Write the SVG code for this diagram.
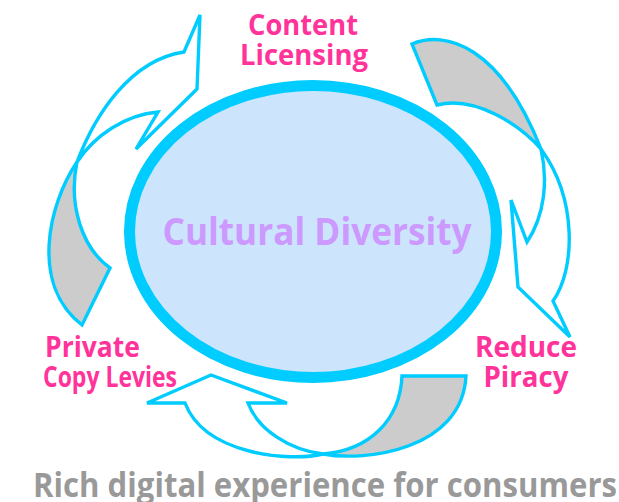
<svg xmlns="http://www.w3.org/2000/svg" width="619" height="502" viewBox="0 0 619 502">
<style>
.arrow{stroke:#00ccff;stroke-width:3.4;stroke-linejoin:miter}
.front{fill:#ffffff}
.back{fill:#cccccc}
.lbl{font-family:"Open Sans","DejaVu Sans",sans-serif;font-weight:bold;fill:#ff3399;font-size:28px}
.center{font-family:"Open Sans","DejaVu Sans",sans-serif;font-weight:bold;fill:#cc99ff;font-size:37px}
.foot{font-family:"Open Sans","DejaVu Sans",sans-serif;font-weight:bold;fill:#999999;font-size:34px}
</style>
<rect width="619" height="502" fill="#ffffff"/>
<g id="connectors">
<g id="arrow-left">
<path class="arrow back" d="M77,162 C48,205 30,285 82,325 L110,268 C82,248 68,205 77,162 Z"/>
<path class="arrow front" d="M77,162 C95,115 130,60 184,52 L200,15 L197,89 L136,149 L158,112 C125,115 95,135 77,162 Z"/>
</g>
<g id="arrow-right">
<path class="arrow back" d="M412,44 C445,30 500,45 541,149 C520,125 475,95 437,105 Z"/>
<path class="arrow front" d="M541,149 C548,180 545,215 527,242 L511,200 L518,287 L570,337 L553,301 C575,270 578,200 541,149 Z"/>
</g>
<g id="arrow-bottom">
<path class="arrow back" d="M323,454 C365,462 462,450 466,376 L402,376 C400,420 370,450 323,454 Z"/>
<path class="arrow front" d="M323,454 C290,462 205,455 185,403 L147,403 L211,375 L287,403 L248,403 C258,430 290,450 323,454 Z"/>
</g>
</g>
<g id="node-center">
<ellipse cx="313" cy="231.5" rx="183.5" ry="146" fill="#cce5fd" stroke="#00ccff" stroke-width="11"/>
<text class="center" x="317" y="245" text-anchor="middle" textLength="309" lengthAdjust="spacingAndGlyphs">Cultural Diversity</text>
</g>
<g id="node-content-licensing">
<text class="lbl" x="303" y="35" text-anchor="middle" textLength="110" lengthAdjust="spacingAndGlyphs">Content</text>
<text class="lbl" x="304" y="65" text-anchor="middle" textLength="128" lengthAdjust="spacingAndGlyphs">Licensing</text>
</g>
<g id="node-private-copy">
<text class="lbl" x="45" y="357" textLength="95" lengthAdjust="spacingAndGlyphs">Private</text>
<text class="lbl" x="43" y="387" textLength="134" lengthAdjust="spacingAndGlyphs">Copy Levies</text>
</g>
<g id="node-reduce-piracy">
<text class="lbl" x="526" y="357" text-anchor="middle" textLength="102" lengthAdjust="spacingAndGlyphs">Reduce</text>
<text class="lbl" x="526" y="387" text-anchor="middle" textLength="85" lengthAdjust="spacingAndGlyphs">Piracy</text>
</g>
<g id="footer">
<text class="foot" x="33" y="497" textLength="584" lengthAdjust="spacingAndGlyphs">Rich digital experience for consumers</text>
</g>
</svg>
